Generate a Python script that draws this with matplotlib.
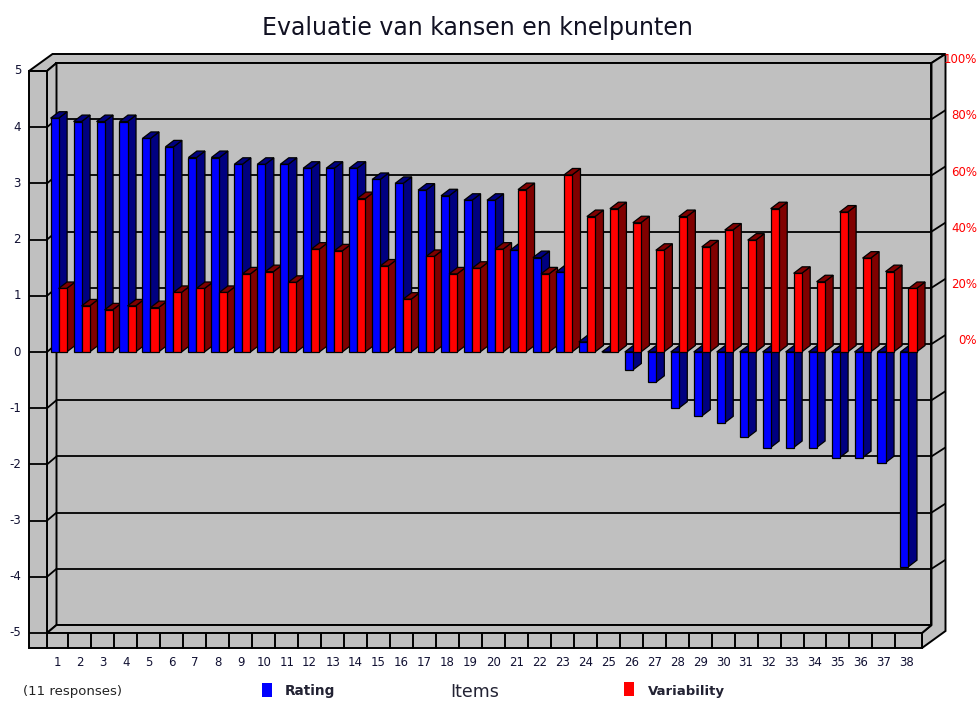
import numpy as np
import matplotlib.pyplot as plt
from matplotlib.patches import Polygon, Rectangle

plt.rcParams['font.family'] = 'DejaVu Sans'

# mean rating per item (11 responses) and variability in percent
items = np.arange(1, 39)
rating = [4.16, 4.10, 4.10, 4.10, 3.80, 3.65, 3.46, 3.46, 3.34, 3.34,
          3.34, 3.27, 3.27, 3.27, 3.07, 3.00, 2.88, 2.78, 2.70, 2.70,
          1.81, 1.68, 1.42, 0.18, 0.00, -0.32, -0.54, -1.00, -1.14, -1.26,
          -1.52, -1.70, -1.70, -1.70, -1.88, -1.88, -1.97, -3.82]
variability = [22.6, 16.4, 15.0, 16.4, 15.8, 21.2, 22.6, 21.2, 27.8, 28.6,
               24.8, 36.6, 36.0, 54.6, 30.6, 18.8, 34.0, 27.8, 29.8, 36.6,
               57.8, 27.8, 63.0, 48.2, 51.0, 46.0, 36.2, 48.2, 37.4, 43.4,
               39.8, 51.0, 28.0, 25.0, 49.8, 33.4, 28.6, 22.6]
rating_ticks = list(range(-5, 6))
pct_ticks = [0, 20, 40, 60, 80, 100]
PCT_PER_UNIT = 20  # 100% sits level with rating 5

# pixel grid of the chart box
CAT_PX, VAL_PX = 22.97, 56.2


def px_x(p):
    return 1 + (p - 57) / CAT_PX


def px_y(p):
    return (352 - p) / VAL_PX


fig = plt.figure(figsize=(9.77, 7.01), dpi=100)
ax = fig.add_axes([0, 0, 1, 1])
ax.set_xlim(px_x(0), px_x(977))
ax.set_ylim(px_y(701), px_y(0))
ax.axis('off')

GREY = '#c0c0c0'
XL, XR = px_x(47), px_x(922)           # inner front edges
XW = px_x(29)                          # outer edge of left wall
VB = px_y(648)                         # underside of floor
DX1, DY1 = 9.5 / CAT_PX, 8 / VAL_PX    # front plane -> back wall
DX2, DY2 = 14 / CAT_PX, 9 / VAL_PX     # back wall thickness
BDX, BDY = 8.5 / CAT_PX, 6.5 / VAL_PX  # bar depth
BW = 0.35


def poly(pts, fc, z=1, lw=1.4):
    ax.add_patch(Polygon(pts, closed=True, fc=fc, ec='black', lw=lw,
                         zorder=z, joinstyle='miter'))


# walls and floor
poly([(XW, 5), (XL, 5), (XL + DX1, 5 + DY1), (XR + DX1, 5 + DY1),
      (XR + DX1 + DX2, 5 + DY1 + DY2), (XW + DX1 + DX2, 5 + DY1 + DY2)], GREY)
poly([(XR + DX1, 5 + DY1), (XR + DX1 + DX2, 5 + DY1 + DY2),
      (XR + DX1 + DX2, VB + DY1 + DY2), (XR, VB), (XR, -5),
      (XR + DX1, -5 + DY1)], GREY)
poly([(XL + DX1, -5 + DY1), (XR + DX1, -5 + DY1),
      (XR + DX1, 5 + DY1), (XL + DX1, 5 + DY1)], GREY)
poly([(XL, 5), (XL + DX1, 5 + DY1), (XL + DX1, -5 + DY1), (XL, -5)], GREY)
poly([(XL, -5), (XR, -5), (XR + DX1, -5 + DY1), (XL + DX1, -5 + DY1)], GREY)
poly([(XL, VB), (XR, VB), (XR, -5), (XL, -5)], GREY)
poly([(XW, VB), (XL, VB), (XL, 5), (XW, 5)], GREY)

# category cells along the floor edge
for i in items[:-1]:
    ax.plot([i + 0.5, i + 0.5], [VB, -5], color='black', lw=1.4, zorder=2)

# gridlines on the walls
for v in rating_ticks:
    kw = dict(color='black', lw=1.3, zorder=2, solid_capstyle='butt')
    if -5 < v < 5:
        ax.plot([XL + DX1, XR + DX1], [v + DY1] * 2, **kw)
        ax.plot([XL, XL + DX1], [v, v + DY1], **kw)
        ax.plot([XR + DX1, XR + DX1 + DX2], [v + DY1, v + DY1 + DY2], **kw)
    ax.plot([XW, XL], [v, v], **kw)
    ax.text(px_x(21), v, str(v), ha='right', va='center', fontsize=8.5,
            color='#111133')

for p in pct_ticks:
    v = p / PCT_PER_UNIT
    ax.text(px_x(977), v + DY1 + DY2 - 0.1, f'{p}%', ha='right',
            va='center', fontsize=8.5, color='#ff0000', zorder=5)


def draw_bar(x0, v, front, dark, z):
    top = max(v, 0)
    poly([(x0 + BW, 0), (x0 + BW, v), (x0 + BW + BDX, v + BDY),
          (x0 + BW + BDX, BDY)], dark, z, 0.9)
    poly([(x0, top), (x0 + BW, top), (x0 + BW + BDX, top + BDY),
          (x0 + BDX, top + BDY)], dark, z, 0.9)
    ax.bar([x0], [v], width=BW, align='edge', color=front,
           edgecolor='black', linewidth=0.9, zorder=z)


z = 3.0
for i, r, p in zip(items, rating, variability):
    draw_bar(i - 0.28, r, '#0000ff', '#000080', z)
    z += 0.01
    draw_bar(i + 0.07, p / PCT_PER_UNIT, '#ff0000', '#800000', z)
    z += 0.01

for i in items:
    ax.text(i, px_y(663), str(i), ha='center', va='center', fontsize=8.5,
            color='#111133')

ax.text(px_x(477), px_y(28), 'Evaluatie van kansen en knelpunten',
        ha='center', va='center', fontsize=17, color='#111122')

# legend row
ax.text(px_x(23), px_y(691), '(11 responses)', ha='left', va='center',
        fontsize=9.5, color='#222222')
ax.add_patch(Rectangle((px_x(262), px_y(697)), 10 / CAT_PX, 14 / VAL_PX,
                       fc='#0000ff', ec='none'))
ax.text(px_x(285), px_y(691), 'Rating', ha='left', va='center',
        fontsize=9.8, fontweight='bold', color='#222233')
ax.text(px_x(475), px_y(692), 'Items', ha='center', va='center',
        fontsize=12.5, color='#222233')
ax.add_patch(Rectangle((px_x(624), px_y(696)), 10 / CAT_PX, 14 / VAL_PX,
                       fc='#ff0000', ec='none'))
ax.text(px_x(648), px_y(691), 'Variability', ha='left', va='center',
        fontsize=9.5, fontweight='bold', color='#222233')

fig.savefig('out.png', dpi=100)
